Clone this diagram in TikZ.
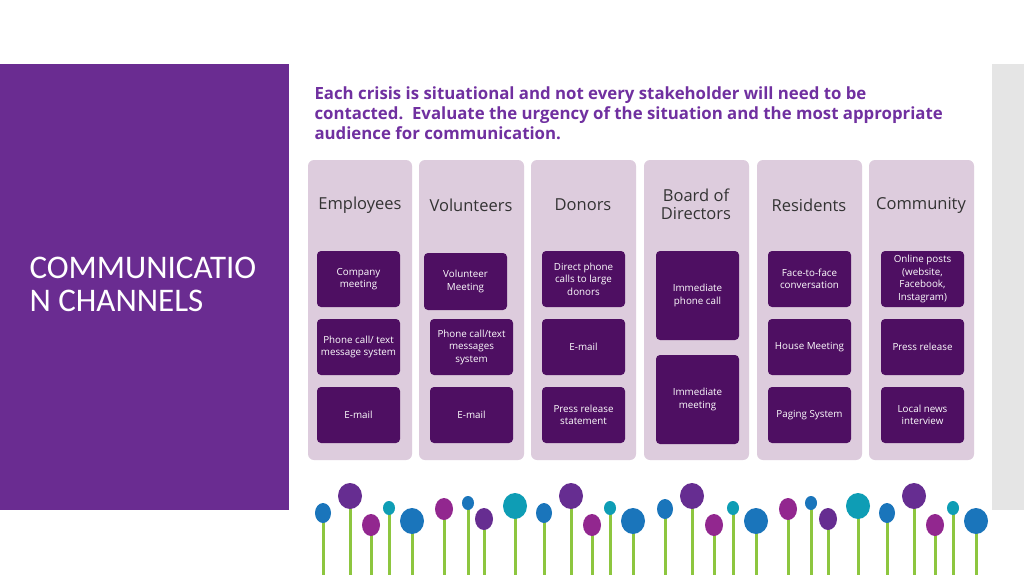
\documentclass[tikz,border=0pt]{standalone}
\usepackage{fontspec}
\setmainfont{Open Sans}
\newfontfamily\hdr{Carlito}
\begin{document}
\begin{tikzpicture}[x=1pt,y=-1pt,
 panel/.style={fill=panelc,draw=none,rounded corners=6pt},
 inner/.style={fill=innerc,draw=none,rounded corners=4pt,text=white,align=center,font=\fontsize{9.8}{12.5}\selectfont},
 head/.style={text=black!80,align=center,font=\fontsize{16.5}{18}\selectfont},
 stem/.style={draw=stemc,line width=3pt}]
\definecolor{leftc}{HTML}{6A2C91}
\definecolor{panelc}{HTML}{DDCCDD}
\definecolor{innerc}{HTML}{4E0F62}
\definecolor{headc}{HTML}{7030A0}
\definecolor{stemc}{HTML}{8DC63F}
\definecolor{balB}{HTML}{1A75BB}
\definecolor{balP}{HTML}{662D91}
\definecolor{balM}{HTML}{92278F}
\definecolor{balT}{HTML}{0E9DB5}
\useasboundingbox[fill=white] (0,0) rectangle (1024,575);
\fill[leftc] (0,64) rectangle (289,510);
\fill[black!10] (992,64) rectangle (1024,510);
\node[anchor=north west,text=white,align=left,font=\hdr\fontsize{33}{33}\selectfont] (title) at (26,254) {COMMUNICATIO\\N CHANNELS};
\node[anchor=north west,text=headc,align=left,font=\bfseries\fontsize{16.8}{20.3}\selectfont] (intro) at (311,83)
 {Each crisis is situational and not every stakeholder will need to be\\contacted.\ \ Evaluate the urgency of the situation and the most appropriate\\audience for communication.};
% panels
\foreach \n/\a/\b in {p1/308/412,p2/419/524,p3/531/636,p4/644/749,p5/757/862,p6/869/974}
 \path[panel] (\a,160) rectangle (\b,460) coordinate (\n);
\node[head] (h1) at (360,205) {Employees};
\node[head] (h2) at (471,205) {Volunteers};
\node[head] (h3) at (583,205) {Donors};
\node[head] (h4) at (696,204) {Board of\\Directors};
\node[head] (h5) at (809,205) {Residents};
\node[head] (h6) at (921,205) {Community};
% inner boxes
\node[inner,minimum width=83pt,minimum height=56pt] (e1) at (358.5,279) {Company\\meeting};
\node[inner,minimum width=83pt,minimum height=56pt] (e2) at (358.5,347) {Phone call/ text\\message system};
\node[inner,minimum width=83pt,minimum height=56pt] (e3) at (358.5,415) {E-mail};
\node[inner,minimum width=83pt,minimum height=57pt] (v1) at (465.5,281.5) {Volunteer\\Meeting};
\node[inner,minimum width=83pt,minimum height=56pt] (v2) at (471.5,347) {Phone call/text\\messages\\system};
\node[inner,minimum width=83pt,minimum height=56pt] (v3) at (471.5,415) {E-mail};
\node[inner,minimum width=83pt,minimum height=56pt] (d1) at (583.5,279) {Direct phone\\calls to large\\donors};
\node[inner,minimum width=83pt,minimum height=56pt] (d2) at (583.5,347) {E-mail};
\node[inner,minimum width=83pt,minimum height=56pt] (d3) at (583.5,415) {Press release\\statement};
\node[inner,minimum width=83pt,minimum height=89pt] (b1) at (697.5,295.5) {Immediate\\phone call};
\node[inner,minimum width=83pt,minimum height=89pt] (b2) at (697.5,399.5) {Immediate\\meeting};
\node[inner,minimum width=83pt,minimum height=56pt] (r1) at (809.5,279) {Face-to-face\\conversation};
\node[inner,minimum width=83pt,minimum height=56pt] (r2) at (809.5,347) {House Meeting};
\node[inner,minimum width=83pt,minimum height=56pt] (r3) at (809.5,415) {Paging System};
\node[inner,minimum width=83pt,minimum height=56pt,inner sep=1pt] (c1) at (922.5,279) {Online posts\\(website,\\Facebook,\\Instagram)};
\node[inner,minimum width=83pt,minimum height=56pt] (c2) at (922.5,347) {Press release};
\node[inner,minimum width=83pt,minimum height=56pt] (c3) at (922.5,415) {Local news\\interview};
% balloons
\foreach \x/\y/\rx/\ry/\c in {323/513/8/10/balB,350/496/12/13/balP,371/525/9/11/balM,389/508/6/7/balT,412/521/12/13/balB,
 444/509/9/11/balM,468/503/6/7/balB,484/519/9/11/balP,515/506/12/13/balT,544/513/8/10/balB,571/496/12/13/balP,592/525/9/11/balM,
 610/508/6/7/balT,633/521/12/13/balB,665/509/8/10/balB,692/496/12/13/balP,714/525/9/11/balM,733/508/6/7/balT,756/521/12/13/balB,
 788/509/9/11/balM,811/503/6/7/balB,828/519/9/11/balP,858/506/12/13/balT,887/513/8/10/balB,914/496/12/13/balP,935/525/9/11/balM,
 953/508/6/7/balT,976/521/12/13/balB}{
 \draw[stem] (\x,\y) -- (\x,575);
 \fill[fill=\c] (\x,\y) ellipse [x radius=\rx, y radius=\ry];
}
\end{tikzpicture}
\end{document}
